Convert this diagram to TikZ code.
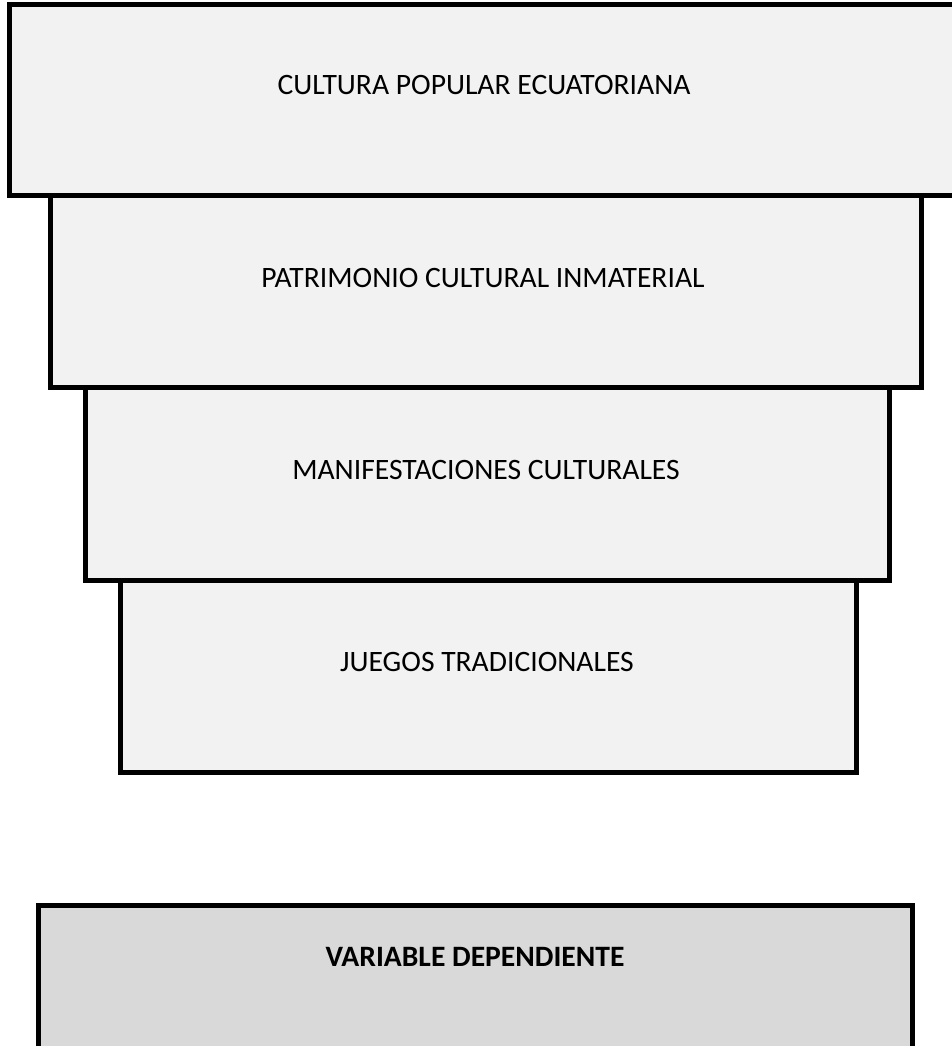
\documentclass[tikz,border=0pt]{standalone}
\usepackage{fontspec}
\setmainfont{Carlito}
\begin{document}
\begin{tikzpicture}[x=0.75pt,y=-0.75pt,
  lvl/.style={draw=black,line width=3.75pt,fill=lightfill},
  lbl/.style={font=\fontsize{22.2}{26}\selectfont,text=black},
  ]
\definecolor{lightfill}{HTML}{F2F2F2}
\definecolor{darkfill}{HTML}{D9D9D9}
\useasboundingbox (0,0) rectangle (952,1046);
\clip (0,0) rectangle (952,1046);
\draw[lvl] (120.5,580.5) rectangle (856.5,772);
\draw[lvl] (85.5,387.5) rectangle (889.5,580.5);
\draw[lvl] (50.5,195.5) rectangle (921.5,387.5);
\draw[lvl] (9.5,4.5) rectangle (965,195.5);
\draw[lvl,fill=darkfill] (38.5,905.5) rectangle (912.5,1065);
\node[lbl] (t1) at (484,85) {CULTURA POPULAR ECUATORIANA};
\node[lbl] (t2) at (483,278) {PATRIMONIO CULTURAL INMATERIAL};
\node[lbl] (t3) at (486,470) {MANIFESTACIONES CULTURALES};
\node[lbl] (t4) at (487,662) {JUEGOS TRADICIONALES};
\node[lbl,font=\fontsize{22.2}{26}\selectfont\bfseries] (t5) at (475,957) {VARIABLE DEPENDIENTE};
\end{tikzpicture}
\end{document}
